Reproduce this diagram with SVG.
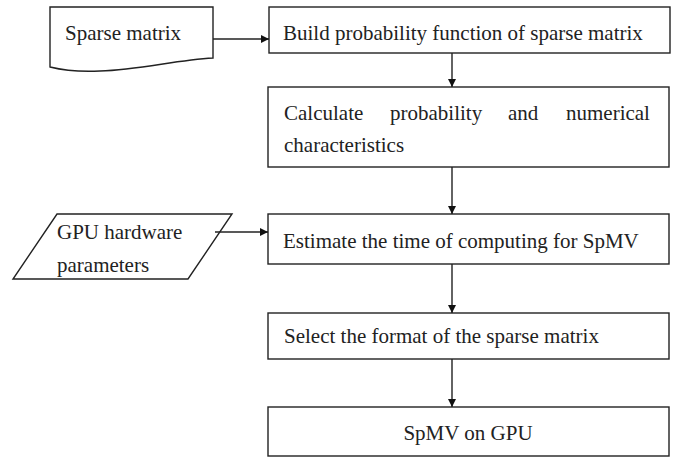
<svg xmlns="http://www.w3.org/2000/svg" width="681" height="460" viewBox="0 0 681 460">
<defs>
<marker id="ah" viewBox="0 0 10 10" refX="10" refY="5" markerWidth="8" markerHeight="8" markerUnits="userSpaceOnUse" orient="auto">
<path d="M0,0 L10,5 L0,10 Z" fill="#111"/>
</marker>
<style>
.shape{fill:#fff;stroke:#222;stroke-width:1.4}
.t{font-family:"Liberation Serif","Times New Roman",serif;font-size:21px;fill:#222}
.c{fill:none;stroke:#222;stroke-width:1.4;marker-end:url(#ah)}
</style>
</defs>
<rect width="681" height="460" fill="#fff"/>
<g id="sparse-matrix">
<path class="shape" d="M50,7 L213,7 L213,58 C175,60 140,70 100,71 C80,72 62,70 50,67 Z"/>
<text class="t" x="65" y="40">Sparse matrix</text>
</g>
<g id="gpu-params">
<path class="shape" d="M57,214 L232,214 L188,279 L13,279 Z"/>
<text class="t" x="57" y="239">GPU hardware</text>
<text class="t" x="57" y="272">parameters</text>
</g>
<g id="build">
<rect class="shape" x="269" y="7" width="401" height="46"/>
<text class="t" x="283" y="40">Build probability function of sparse matrix</text>
</g>
<g id="calculate">
<rect class="shape" x="268" y="87" width="401" height="80"/>
<text class="t" y="120"><tspan x="284">Calculate</tspan><tspan x="390">probability</tspan><tspan x="508">and</tspan><tspan x="566">numerical</tspan></text>
<text class="t" x="284" y="152">characteristics</text>
</g>
<g id="estimate">
<rect class="shape" x="268" y="214" width="401" height="50"/>
<text class="t" x="283" y="248">Estimate the time of computing for SpMV</text>
</g>
<g id="select">
<rect class="shape" x="268" y="313" width="401" height="46"/>
<text class="t" x="284" y="343">Select the format of the sparse matrix</text>
</g>
<g id="spmv">
<rect class="shape" x="268" y="407" width="401" height="49"/>
<text class="t" x="468" y="440" text-anchor="middle">SpMV on GPU</text>
</g>
<g id="connectors">
<line class="c" x1="213" y1="39" x2="269" y2="39"/>
<line class="c" x1="452" y1="53" x2="452" y2="87"/>
<line class="c" x1="452" y1="167" x2="452" y2="214"/>
<line class="c" x1="215" y1="232" x2="268" y2="232"/>
<line class="c" x1="452" y1="264" x2="452" y2="313"/>
<line class="c" x1="452" y1="359" x2="452" y2="407"/>
</g>
</svg>
